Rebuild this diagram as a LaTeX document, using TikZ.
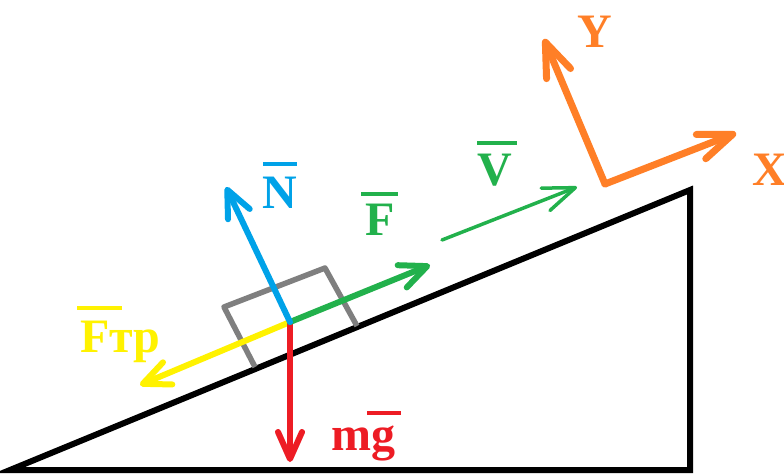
\documentclass[tikz,border=0pt]{standalone}
\usepackage{fontspec}
\setmainfont{Liberation Serif}
\usetikzlibrary{arrows.meta}
\definecolor{pblue}{HTML}{00A2E8}
\definecolor{pgreen}{HTML}{22B14C}
\definecolor{pred}{HTML}{ED1C24}
\definecolor{pyellow}{HTML}{FFF200}
\definecolor{porange}{HTML}{FF7F27}
\definecolor{pgray}{HTML}{7F7F7F}
\tikzset{
  force/.style={line width=6pt, line cap=round, line join=round,
    -{Straight Barb[length=27pt,width=24pt,line cap=round,line join=round]}},
  thinforce/.style={line width=3.5pt, line cap=round, line join=round,
    -{Straight Barb[length=32pt,width=24pt,line cap=round,line join=round]}},
  axis/.style={line width=7pt, line cap=round, line join=round,
    -{Straight Barb[length=34pt,width=26pt,line cap=round,line join=round]}},
  lbl/.style={inner sep=0pt, font=\fontsize{48}{48}\selectfont\bfseries},
  bar/.style={line width=4pt},
}
\begin{document}
\begin{tikzpicture}[x=1pt,y=-1pt]
\useasboundingbox[fill=white] (0,0) rectangle (784,474);
% incline
\coordinate (A) at (10,470);
\coordinate (B) at (690,470);
\coordinate (C) at (690,190);
\draw[line width=6pt, line join=miter] (A) -- (B) -- (C) -- cycle;
% block
\coordinate (b1) at (255,367);
\coordinate (b2) at (224,307);
\coordinate (b3) at (325,268);
\coordinate (b4) at (357,326);
\draw[pgray, line width=5.5pt, line join=round] (b1) -- (b2) -- (b3) -- (b4);
% forces
\coordinate (O) at (290,322);
\coordinate (Ntip) at (226,187);
\coordinate (Ftip) at (430,265);
\coordinate (Ttip) at (140,385);
\coordinate (Gtip) at (290,462);
\draw[force, pyellow] (O) -- (Ttip);
\draw[force, pred] (O) -- (Gtip);
\draw[force, pgreen] (O) -- (Ftip);
\draw[force, pblue] (O) -- (Ntip);
% velocity
\coordinate (V0) at (442,240);
\coordinate (V1) at (577,187);
\draw[thinforce, pgreen] (V0) -- (V1);
% axes
\coordinate (Ax) at (605,184);
\coordinate (Xt) at (736,133);
\coordinate (Yt) at (544,39);
\draw[axis, porange] (Ax) -- (Xt);
\draw[axis, porange] (Ax) -- (Yt);
% labels
\node[lbl, pblue, anchor=base] (lN) at (280,208) {N};
\draw[bar, pblue] (263,164) -- (297,164);
\node[lbl, pgreen, anchor=base] (lF) at (380,235) {F};
\draw[bar, pgreen] (361,194) -- (398,194);
\node[lbl, pgreen, anchor=base] (lV) at (495,185) {V};
\draw[bar, pgreen] (477,143) -- (517,143);
\node[lbl, porange, anchor=base] (lY) at (595,47) {Y};
\node[lbl, porange, anchor=base west] (lX) at (752,185) {X};
\node[lbl, pyellow, anchor=base west] (lT) at (80,352) {Fтр};
\draw[bar, pyellow] (77,308) -- (122,308);
\node[lbl, pred, anchor=base west] (lG) at (331,450) {mg};
\draw[bar, pred] (367,413) -- (401,413);
\end{tikzpicture}
\end{document}
